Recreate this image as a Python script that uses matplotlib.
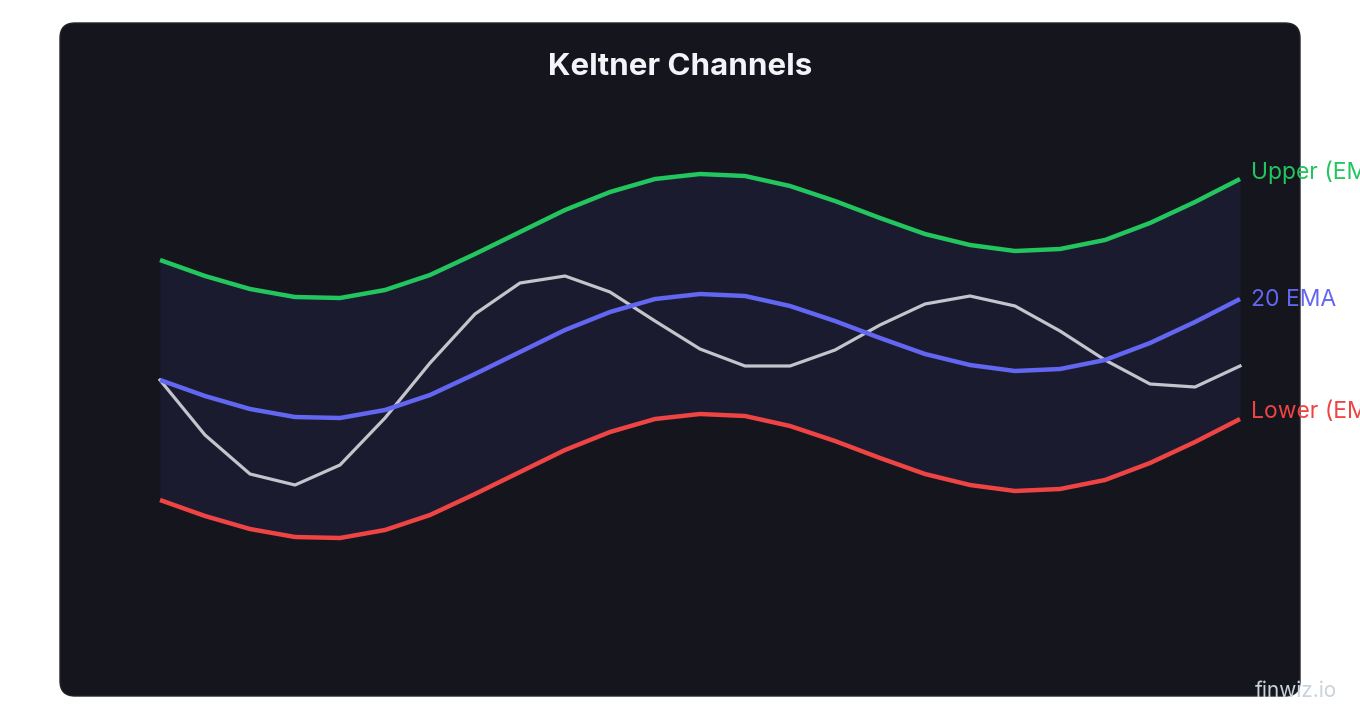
import matplotlib
matplotlib.use("Agg")
import matplotlib.pyplot as plt
from matplotlib.patches import FancyBboxPatch

plt.rcParams["font.family"] = ["Inter", "DejaVu Sans"]

# 25 sessions, values
days = list(range(25))
ema = [100.0, 99.2, 98.55, 98.15, 98.1, 98.5, 99.25, 100.3, 101.4, 102.5, 103.4, 104.05, 104.3,
       104.2, 103.7, 102.95, 102.1, 101.3, 100.75, 100.45, 100.55, 101.0, 101.85, 102.9, 104.05]
upper = [106.0, 105.2, 104.55, 104.15, 104.1, 104.5, 105.25, 106.3, 107.4, 108.5, 109.4, 110.05, 110.3,
         110.2, 109.7, 108.95, 108.1, 107.3, 106.75, 106.45, 106.55, 107.0, 107.85, 108.9, 110.05]
lower = [94.0, 93.2, 92.55, 92.15, 92.1, 92.5, 93.25, 94.3, 95.4, 96.5, 97.4, 98.05, 98.3,
         98.2, 97.7, 96.95, 96.1, 95.3, 94.75, 94.45, 94.55, 95.0, 95.85, 96.9, 98.05]
price = [100.0, 97.25, 95.3, 94.75, 95.75, 98.1, 100.85, 103.3, 104.85, 105.2, 104.4, 102.95, 101.55,
         100.7, 100.7, 101.5, 102.75, 103.8, 104.2, 103.7, 102.45, 101.0, 99.8, 99.65, 100.7]

green = "#22c55e"
blue = "#6366f1"
red = "#ef4444"
grey = "#c4c4cc"

fig = plt.figure(figsize=(13.6, 7.2), dpi=100)
fig.patch.set_facecolor("white")

W, H = 1360, 720
card = FancyBboxPatch((60 / W, (720 - 696) / H), 1240 / W, 673 / H,
                      boxstyle="round,pad=0,rounding_size=0.011",
                      transform=fig.transFigure, facecolor="#15151e",
                      edgecolor="#22222c", linewidth=1, mutation_aspect=W / H,
                      zorder=-10)
fig.patches.append(card)

ax = fig.add_axes([160 / W, (720 - 640) / H, 1080 / W, 520 / H])
ax.set_zorder(1)
ax.set_facecolor("none")
ax.set_xlim(0, 24)
ax.set_ylim(87, 113)
ax.axis("off")

ax.fill_between(days, lower, upper, color="#1a1b2f", lw=0)
ax.plot(days, upper, color=green, lw=3.2, solid_capstyle="butt", clip_on=False)
ax.plot(days, lower, color=red, lw=3.2, solid_capstyle="butt", clip_on=False)
ax.plot(days, price, color=grey, lw=2.3, clip_on=False)
ax.plot(days, ema, color=blue, lw=3.2, solid_capstyle="butt", clip_on=False)

ax.annotate("Upper (EMA + 2 ATR)", (24, upper[-1]), xytext=(8, 5), textcoords="offset points",
            color=green, fontsize=16.5, va="center", annotation_clip=False)
ax.annotate("20 EMA", (24, ema[-1]), xytext=(8, -1), textcoords="offset points",
            color=blue, fontsize=16.5, va="center", annotation_clip=False)
ax.annotate("Lower (EMA - 2 ATR)", (24, lower[-1]), xytext=(8, 5), textcoords="offset points",
            color=red, fontsize=16.5, va="center", annotation_clip=False)

fig.text(680 / W, 1 - 67 / H, "Keltner Channels", color="#f3f4f8", fontsize=22.5,
         fontweight="bold", ha="center", va="center")
fig.text(1296 / W, 1 - 691 / H, "finwiz.io", color="#c8d3dc", fontsize=15,
         ha="center", va="center")

fig.savefig("out.png", dpi=100, facecolor=fig.get_facecolor())
